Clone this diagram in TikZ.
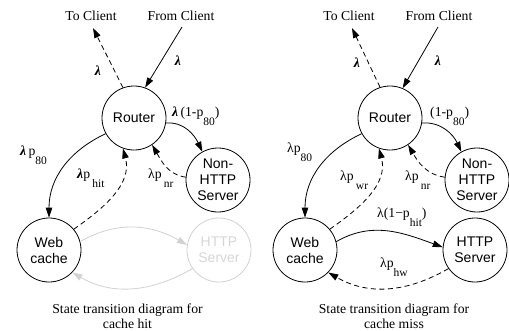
\documentclass[tikz,border=0pt]{standalone}
\usepackage{fontspec}
\setmainfont{Liberation Serif}
\newfontfamily\nodefont{Liberation Sans}
\usetikzlibrary{arrows.meta}
% lowered subscript, as in the labels of the transitions
\newcommand\lsub[1]{\raisebox{-9pt}{\fontsize{11.5}{12}\selectfont #1}}
\newcommand\blam{{\bfseries\itshape λ}}

\begin{document}
\begin{tikzpicture}[x=1pt,y=-1pt,
  state/.style={circle,draw,line width=0.8pt,minimum size=64pt,inner sep=0pt,
    align=center,font=\nodefont\fontsize{14}{16}\selectfont},
  faded/.style={draw=black!18,text=black!16},
  txt/.style={inner sep=0pt,anchor=base,font=\fontsize{13.7}{16}\selectfont},
  lbl/.style={inner sep=0pt,anchor=base west,font=\fontsize{13.7}{16}\selectfont},
  caption/.style={inner sep=0pt,align=center,font=\fontsize{13.7}{15.5}\selectfont},
  flow/.style={line width=0.8pt,-{Triangle[length=10pt,width=6.5pt]}},
  back/.style={flow,dash pattern=on 5pt off 3.5pt},
  fadedflow/.style={flow,draw=black!18,-{Triangle[length=10pt,width=6.5pt,fill=black!18]}},
]
\useasboundingbox (0,0) rectangle (509,330);

% ---------- cache hit ----------
\node[txt] (tcA) at (91,20) {To Client};
\node[txt] (fcA) at (181,20) {From Client};
\coordinate (tcAend) at (93,28);
\coordinate (fcAstart) at (182,27);

\node[state] (routerA) at (134,118) {Router};
\node[state] (nonA) at (218,180) {Non-\\HTTP\\Server};
\node[state] (webA) at (49,250) {Web\\cache};
\node[state,faded] (httpA) at (219,250) {HTTP\\Server};

\draw[flow] (fcAstart) -- (routerA.70);
\draw[back] (routerA.110) -- (tcAend);
\draw[flow] (routerA.-9) to[out=5,in=115] (nonA.119);
\draw[flow] (routerA.209) to[out=205,in=90] (webA.90);
\draw[back] (webA.40) to[out=35,in=-75] (routerA.250);
\draw[back] (nonA.175) to[out=172,in=-60] (routerA.304);
\draw[fadedflow] (webA.15) to[out=30,in=150] (httpA.171);
\draw[fadedflow] (httpA.215) to[out=-150,in=-30] (webA.-44);

\node[txt] (lA1) at (98,75) {\blam};
\node[txt] (lA2) at (178,65) {\blam};
\node[lbl] (lA3) at (172,116) {\blam\,(1-p\lsub{80})};
\node[lbl] (lA4) at (20,155) {\blam\,p\lsub{80}};
\node[lbl] (lA5) at (77,178) {\blam p\,\lsub{hit}};
\node[lbl] (lA6) at (148,178) {λp\,\lsub{nr}};

\node[caption] (capA) at (127.5,316) {State transition diagram for\\cache hit};

% ---------- cache miss ----------
\node[txt] (tcB) at (349,20) {To Client};
\node[txt] (fcB) at (439,20) {From Client};
\coordinate (tcBend) at (352,28);
\coordinate (fcBstart) at (438,27);

\node[state] (routerB) at (390,118) {Router};
\node[state] (nonB) at (477,180) {Non-\\HTTP\\Server};
\node[state] (webB) at (305,250) {Web\\cache};
\node[state] (httpB) at (475,250) {HTTP\\Server};

\draw[flow] (fcBstart) -- (routerB.67);
\draw[back] (routerB.108) -- (tcBend);
\draw[flow] (routerB.-9) to[out=5,in=115] (nonB.119);
\draw[flow] (routerB.209) to[out=205,in=90] (webB.90);
\draw[back] (webB.40) to[out=35,in=-75] (routerB.250);
\draw[back] (nonB.175) to[out=172,in=-60] (routerB.304);
\draw[flow] (webB.15) to[out=30,in=160] (httpB.175);
\draw[back] (httpB.215) to[out=-150,in=-30] (webB.-44);

\node[txt] (lB1) at (357,67) {\blam};
\node[txt] (lB2) at (438,65) {\blam};
\node[lbl] (lB3) at (430,116) {(1-p\lsub{80})};
\node[lbl] (lB4) at (287,152) {λp\lsub{80}};
\node[lbl] (lB5) at (340,180) {λp\,\lsub{wr}};
\node[lbl] (lB6) at (405,180) {λp\,\lsub{nr}};
\node[lbl] (lB7) at (377,217) {λ(1\textminus p\lsub{hit})};
\node[lbl] (lB8) at (380,267) {λp\lsub{hw}};

\node[caption] (capB) at (394,316) {State transition diagram for\\cache miss};
\end{tikzpicture}
\end{document}
